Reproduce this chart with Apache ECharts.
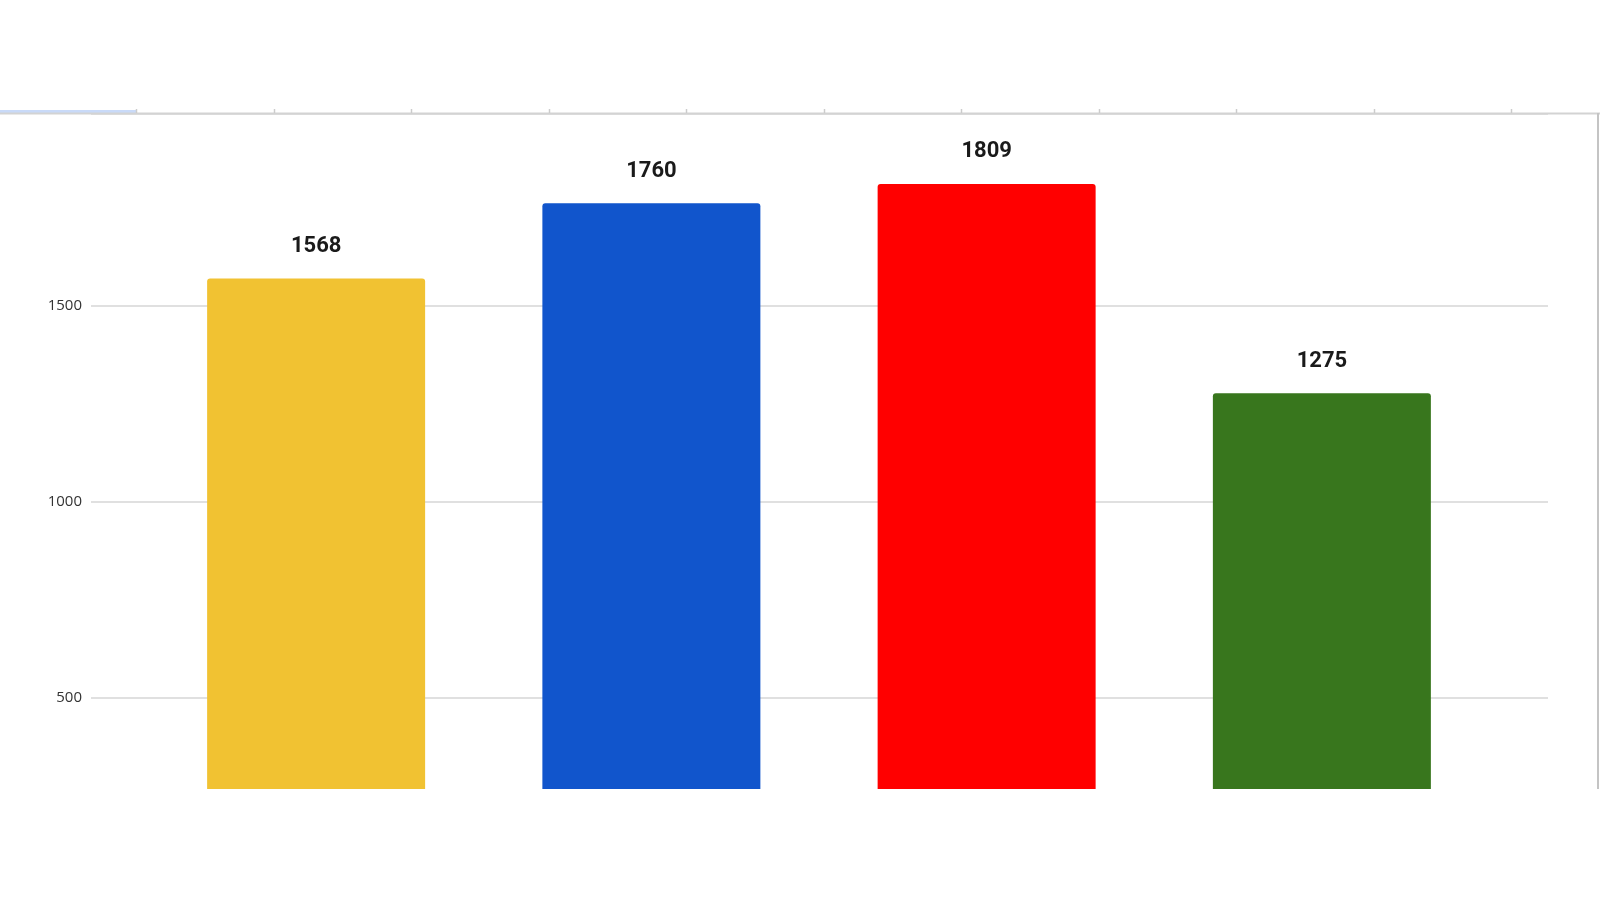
<!DOCTYPE html>
<html>
<head>
<meta charset="utf-8">
<script src="https://cdn.jsdelivr.net/npm/echarts@6/dist/echarts.min.js"></script>
<style>
html,body{margin:0;padding:0;background:#fff;}
#c{width:1600px;height:900px;}
</style>
</head>
<body>
<div id="c"></div>
<script>
var categories = ['1', '2', '3', '4'];
var values = [1568, 1760, 1809, 1275];
var barColors = ['#f1c232', '#1155cc', '#ff0000', '#38761d'];
var yTicks = [500, 1000, 1500];

var chart = echarts.init(document.getElementById('c'));

var sheetGraphics = [
  { type: 'rect', shape: { x: 0, y: 789, width: 1600, height: 111 }, style: { fill: '#ffffff' }, z: 100 },
  { type: 'rect', shape: { x: 0, y: 110, width: 136, height: 3 }, style: { fill: '#c9daf8' }, z: 101 },
  { type: 'line', shape: { x1: 0, y1: 113.5, x2: 1600, y2: 113.5 }, style: { stroke: '#d3d3d3', lineWidth: 2 }, z: 101 },
  { type: 'line', shape: { x1: 1598, y1: 113, x2: 1598, y2: 789 }, style: { stroke: '#c4c4c4', lineWidth: 2 }, z: 101 }
];
for (var i = 1; i <= 11; i++) {
  var tx = Math.round(136 + (i - 1) * 137.5) + 0.5;
  sheetGraphics.push({ type: 'line', shape: { x1: tx, y1: 109, x2: tx, y2: 113 }, style: { stroke: '#cccccc', lineWidth: 1.5 }, z: 101 });
}

chart.setOption({
  backgroundColor: '#ffffff',
  animation: false,
  grid: [
    { left: 91, right: 52, top: 114, bottom: 6 },
    { left: 148.5, right: 110.5, top: 113, bottom: 7 }
  ],
  xAxis: [
    { type: 'category', gridIndex: 0, data: categories, show: false },
    { type: 'category', gridIndex: 1, data: categories, show: false }
  ],
  yAxis: [
    {
      type: 'value', gridIndex: 0, min: 0, max: 1990, interval: 500,
      axisLine: { show: false }, axisTick: { show: false },
      axisLabel: {
        showMaxLabel: false, margin: 9, fontSize: 15, color: '#333333',
        fontFamily: 'Open Sans',
        formatter: function (v) { return yTicks.indexOf(v) >= 0 ? String(v) : ''; }
      },
      splitLine: { lineStyle: { color: '#d6d6d6', width: 1.5 } }
    },
    {
      type: 'value', gridIndex: 1, min: 0, max: 1990, interval: 500, show: false,
      splitLine: { show: false }
    }
  ],
  series: [{
    type: 'bar',
    xAxisIndex: 1, yAxisIndex: 1,
    barWidth: 218,
    data: values.map(function (v, i) {
      return { value: v, itemStyle: { color: barColors[i], borderRadius: [3, 3, 0, 0] } };
    }),
    label: {
      show: true, position: 'top', distance: 21,
      fontFamily: 'Roboto', fontWeight: 'bold', fontSize: 22, color: '#1a1a1a'
    }
  }],
  graphic: sheetGraphics
});
</script>
</body>
</html>
